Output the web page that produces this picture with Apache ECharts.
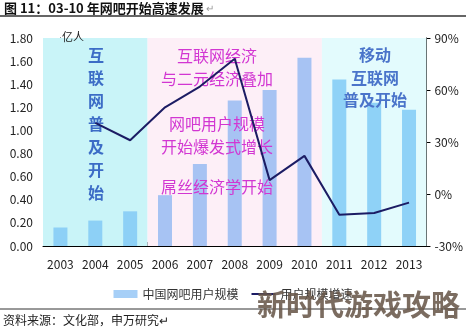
<!DOCTYPE html>
<html><head><meta charset="utf-8">
<script src="https://cdn.jsdelivr.net/npm/echarts@6/dist/echarts.min.js"></script>
<style>html,body{margin:0;padding:0;background:#fff}#c{width:466px;height:330px}</style>
</head><body><div id="c"></div><script>
const years = ['2003','2004','2005','2006','2007','2008','2009','2010','2011','2012','2013'];
const users = [0.16, 0.22, 0.30, 0.44, 0.71, 1.26, 1.35, 1.63, 1.44, 1.24, 1.18];
const growth = [null, 41, 31, 50, 62, 78, 8, 22, -12, -11, -5];
const regionStart = [-0.5, 2.5, 7.5];
const regionEnd = [2.5, 7.5, 10.5];
const regionFill = ['#c9f4f8', '#fdeff7', '#e3fbfd'];
const regionBar = ['#8dd0f6', '#a7c3f3', '#8fd2f7'];
const seriesNames = ['中国网吧用户规模', '用户规模增速'];

const FONT = '"Noto Sans CJK SC", "Noto Sans", sans-serif';
function regionOf(i){ for(let r=0;r<regionStart.length;r++){ if(i>regionStart[r] && i<regionEnd[r]) return r; } return 0; }

const chart = echarts.init(document.getElementById('c'), null, {renderer:'canvas'});
const option = {
  backgroundColor:'#fff',
  animation:false,
  textStyle:{fontFamily:FONT},
  grid:{left:43, right:39, top:38, bottom:84},
  legend:{
    left:'center', top:283, itemWidth:24, itemHeight:8, itemGap:12,
    textStyle:{fontFamily:FONT, fontSize:12, color:'#333'},
    data:[{name:seriesNames[0], icon:'rect'},
          {name:seriesNames[1], itemStyle:{opacity:0}, lineStyle:{width:2, color:'#1c1c64'}}]
  },
  xAxis:[
    {type:'category', data:years, axisLine:{lineStyle:{color:'#000'}},
     axisTick:{show:true, length:4, inside:true, lineStyle:{color:'#000'}},
     axisLabel:{color:'#222', fontSize:12, margin:12, fontFamily:FONT}},
    {type:'value', min:-0.5, max:10.5, show:false}
  ],
  yAxis:[
    {type:'value', min:0, max:1.8, interval:0.2, splitLine:{show:false},
     axisLine:{show:true, lineStyle:{color:'#000'}},
     axisTick:{show:true, inside:true, length:4, lineStyle:{color:'#000'}},
     axisLabel:{color:'#222', fontSize:12, margin:10, formatter:v=>v.toFixed(2)}},
    {type:'value', min:-30, max:90, interval:30, splitLine:{show:false},
     axisLine:{show:true, lineStyle:{color:'#000'}},
     axisTick:{show:true, length:4, lineStyle:{color:'#000'}},
     axisLabel:{color:'#222', fontSize:12, margin:8, formatter:v=>v+'%'}}
  ],
  series:[
    {type:'line', xAxisIndex:1, yAxisIndex:0, data:[], silent:true, z:0,
     markArea:{silent:true, itemStyle:{opacity:1},
       data: regionStart.map((s,i)=>[{xAxis:s, yAxis:0, itemStyle:{color:regionFill[i]}},{xAxis:regionEnd[i], yAxis:1.8}])}},
    {name:seriesNames[0], type:'bar', xAxisIndex:0, yAxisIndex:0, barWidth:14, z:2,
     itemStyle:{color:'#a6cff7'},
     data: users.map((v,i)=>({value:v, itemStyle:{color:regionBar[regionOf(i)]}}))},
    {name:seriesNames[1], type:'line', xAxisIndex:0, yAxisIndex:1, symbol:'none', z:10,
     lineStyle:{color:'#1c1c64', width:2}, itemStyle:{color:'#1c1c64'},
     data: growth}
  ],
  graphic:{elements:[
    {type:'text', left:4, top:2, style:{text:'图 11：03-10 年网吧开始高速发展', font:'bold 13px '+FONT, fill:'#111'}},
    {type:'text', left:206, top:3, style:{text:'↵', font:'10px '+FONT, fill:'#999'}},
    {type:'line', shape:{x1:0,y1:16,x2:466,y2:16}, style:{stroke:'#333', lineWidth:1.5}},
    {type:'line', shape:{x1:0,y1:309,x2:466,y2:309}, style:{stroke:'#333', lineWidth:1}},
    {type:'text', left:3, top:314, style:{text:'资料来源：文化部，申万研究↵', font:'12px '+FONT, fill:'#222'}},
    {type:'text', x:62, y:31, z:5, style:{text:'亿人', font:'11px '+FONT, fill:'#222'}},
    {type:'text', x:96, y:43, z:5, style:{text:'互\n联\n网\n普\n及\n开\n始', font:'bold 16px '+FONT, fill:'#3c6cc6', align:'center', lineHeight:23}},
    {type:'text', x:217, y:44, z:5, style:{text:'互联网经济\n与二元经济叠加', font:'16px '+FONT, fill:'#d236d2', align:'center', lineHeight:23}},
    {type:'text', x:217, y:112, z:5, style:{text:'网吧用户规模\n开始爆发式增长', font:'16px '+FONT, fill:'#d236d2', align:'center', lineHeight:23}},
    {type:'text', x:217, y:179, z:5, style:{text:'屌丝经济学开始', font:'16px '+FONT, fill:'#d236d2', align:'center'}},
    {type:'text', x:375, y:44, z:5, style:{text:'移动\n互联网\n普及开始', font:'bold 16px '+FONT, fill:'#4a74ca', align:'center', lineHeight:22.5}},
    {type:'text', x:257, y:290, z:100, style:{text:'新时代游戏攻略', font:'bold 29px '+FONT, fill:'rgba(105,88,74,0.88)'}}
  ]}
};
chart.setOption(option);
</script></body></html>
